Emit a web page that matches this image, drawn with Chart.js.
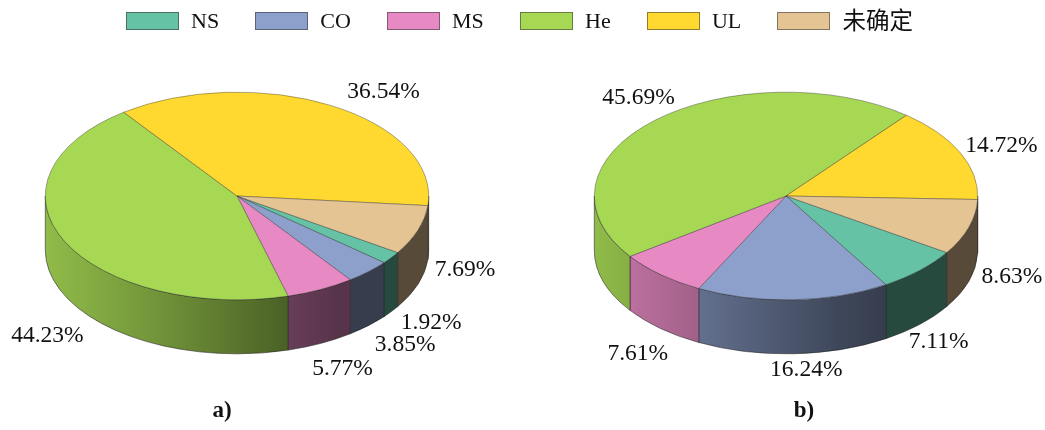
<!DOCTYPE html>
<html>
<head>
<meta charset="utf-8">
<script src="https://cdn.jsdelivr.net/npm/chart.js@4/dist/chart.umd.min.js"></script>
<style>
    html, body { margin: 0; padding: 0; background: #fff; }
    #wrap { position: relative; width: 1045px; height: 430px; overflow: hidden; }
    canvas { position: absolute; top: 0; }
    #chart-a { left: 0; }
    #chart-b { left: 522px; }
    #legend {
        position: absolute; top: 8px; left: 126px; display: flex; gap: 36.2px; z-index: 2;
        font: 22px "Liberation Serif", "Noto Sans CJK SC", serif; color: #111; line-height: 26px;
    }
    #legend .item { display: flex; align-items: center; gap: 12px; }
    #legend .swatch { width: 51px; height: 16px; border: 1px solid rgba(50, 50, 50, 0.55); }
    #legend .cjk { font-size: 23.5px; }
</style>
</head>
<body>
<div id="wrap">
    <div id="legend"></div>
    <canvas id="chart-a" width="522" height="430"></canvas>
    <canvas id="chart-b" width="523" height="430"></canvas>
</div>
<script>
// --- Data ---
const categories = ['NS', 'CO', 'MS', 'He', 'UL', '未确定'];
const valuesA = [1.92, 3.85, 5.77, 44.23, 36.54, 7.69];
const valuesB = [7.11, 16.24, 7.61, 45.69, 14.72, 8.63];
const colors = ['#66c2a5', '#8da0cb', '#e78ac3', '#a6d854', '#ffd92f', '#e5c494'];

// --- Layout (label nudges are relative to the slice's rim point) ---
const rotation = 123;
const squash = 0.5417;
const wallDepth = 54;
const labelNudgeA = [[40, 65], [37, 73], [22, 79], [-17, 95], [52, -14], [47, 40]];
const labelNudgeB = [[19, 71], [13, 70], [-23, 79], [-16, -23], [41, -7], [43, 50]];
const labelFont = '23.5px "Liberation Serif", serif';
const captionFont = 'bold 23px "Liberation Serif", serif';
const outline = 'rgba(35, 35, 35, 0.8)';

// brightness of the side wall across the pie width
const wallShade = [[0, 0.87], [0.27, 0.7], [0.63, 0.45], [0.76, 0.38], [1, 0.38]];

function shadeColor(hex, f) {
    const n = parseInt(hex.slice(1), 16);
    const r = Math.round((n >> 16 & 255) * f);
    const g = Math.round((n >> 8 & 255) * f);
    const b = Math.round((n & 255) * f);
    return `rgb(${r},${g},${b})`;
}

function drawWalls(chart) {
    const ctx = chart.ctx;
    const arcs = chart.getDatasetMeta(0).data;
    arcs.forEach((arc, i) => {
        const { x, y, startAngle, endAngle, outerRadius } = arc.getProps(['x', 'y', 'startAngle', 'endAngle', 'outerRadius']);
        const ry = outerRadius * squash;
        const grad = ctx.createLinearGradient(x - outerRadius, 0, x + outerRadius, 0);
        wallShade.forEach(([at, f]) => grad.addColorStop(at, shadeColor(colors[i], f)));

        // only the part of the slice in the front half of the ellipse has a wall
        for (let k = -1; k <= 2; k++) {
            const from = Math.max(startAngle, k * 2 * Math.PI);
            const to = Math.min(endAngle, k * 2 * Math.PI + Math.PI);
            if (to <= from) continue;
            ctx.beginPath();
            ctx.ellipse(x, y, outerRadius, ry, 0, from, to);
            ctx.ellipse(x, y + wallDepth, outerRadius, ry, 0, to, from, true);
            ctx.closePath();
            ctx.fillStyle = grad;
            ctx.fill();
            ctx.lineWidth = 0.7;
            ctx.strokeStyle = outline;
            ctx.stroke();
        }
    });
}

const pie3d = {
    id: 'pie3d',
    beforeDatasetsDraw(chart) {
        const ctx = chart.ctx;
        const arc = chart.getDatasetMeta(0).data[0];
        drawWalls(chart);
        ctx.save();
        ctx.translate(arc.x, arc.y);
        ctx.scale(1, squash);
        ctx.translate(-arc.x, -arc.y);
    },
    afterDatasetsDraw(chart, args, opts) {
        const ctx = chart.ctx;
        ctx.restore();

        const arcs = chart.getDatasetMeta(0).data;
        const values = chart.data.datasets[0].data;
        ctx.font = labelFont;
        ctx.fillStyle = '#111';
        ctx.textAlign = 'center';
        ctx.textBaseline = 'middle';
        arcs.forEach((arc, i) => {
            const mid = (arc.startAngle + arc.endAngle) / 2;
            const px = arc.x + arc.outerRadius * Math.cos(mid);
            const py = arc.y + arc.outerRadius * squash * Math.sin(mid);
            ctx.fillText(values[i].toFixed(2) + '%', px + opts.nudge[i][0], py + opts.nudge[i][1]);
        });

        ctx.font = captionFont;
        ctx.fillText(opts.caption, arcs[0].x + opts.captionDx, 411);
    }
};

function makePie(id, values, nudge, caption, captionDx, padLeft, padRight) {
    return new Chart(document.getElementById(id), {
        type: 'pie',
        data: {
            labels: categories,
            datasets: [{
                data: values,
                backgroundColor: colors,
                borderColor: outline,
                borderWidth: 0.6
            }]
        },
        options: {
            responsive: false,
            animation: false,
            rotation: rotation,
            layout: { padding: { left: padLeft, right: padRight, top: 4, bottom: 42 } },
            plugins: {
                legend: { display: false },
                tooltip: { enabled: false },
                pie3d: { nudge, caption, captionDx }
            }
        },
        plugins: [pie3d]
    });
}

makePie('chart-a', valuesA, labelNudgeA, 'a)', -15, 45, 93);
makePie('chart-b', valuesB, labelNudgeB, 'b)', 18, 72, 67);

// --- Legend ---
const legendEl = document.getElementById('legend');
categories.forEach((name, i) => {
    const item = document.createElement('div');
    item.className = 'item';
    const swatch = document.createElement('div');
    swatch.className = 'swatch';
    swatch.style.background = colors[i];
    const text = document.createElement('span');
    text.textContent = name;
    if (name.charCodeAt(0) > 255) text.className = 'cjk';
    item.append(swatch, text);
    legendEl.append(item);
});
</script>
</body>
</html>
